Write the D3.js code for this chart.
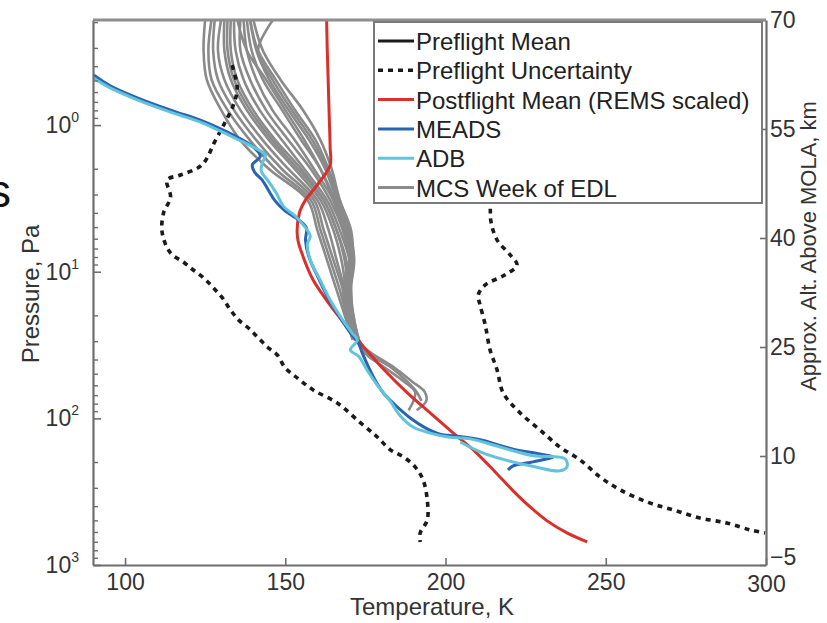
<!DOCTYPE html>
<html>
<head>
<meta charset="utf-8">
<script src="https://cdn.jsdelivr.net/npm/d3@7"></script>
<style>
  html, body { margin: 0; padding: 0; background: #fff; }
  svg { display: block; font-family: "Liberation Sans", Arial, sans-serif; }
</style>
</head>
<body>
<div id="chart"></div>
<script>
// axis ticks
const tempTicks = [100, 150, 200, 250, 300];
const presTicks = [1, 10, 100, 1000];
const presExp = ["0", "1", "2", "3"];
const altTicks = [-5, 10, 25, 40, 55, 70];

// [temperature K, pressure Pa]
const uncertCold = [[133.4,0.39],[135.0,0.56],[133.8,0.73],[131.3,0.95],[128.2,1.27],[124.0,1.87],[117.3,2.19],[113.1,2.37],[114.2,3.1],[112.0,3.98],[111.6,5.45],[114.2,7.46],[118.2,8.59],[121.3,9.73],[124.5,11.0],[127.6,12.9],[130.4,15.1],[132.9,18.2],[135.4,21.3],[138.5,24.2],[141.6,28.3],[144.4,32.6],[147.5,37.0],[150.0,45.3],[153.8,53.1],[158.7,64.0],[166.2,78.5],[173.4,107],[178.7,134],[182.8,164],[186.8,183],[190.5,214],[193.0,263],[194.3,360],[194.3,493],[192.1,604],[192.1,696]];

const uncertWarm = [[212.7,0.19],[210.8,0.68],[213.9,3.51],[214.2,4.58],[216.1,6.08],[220.2,7.69],[222.3,9.0],[218.6,10.5],[212.4,12.3],[210.2,14.4],[210.8,16.9],[212.4,23.1],[213.9,34.2],[216.1,46.8],[218.0,67.1],[223.3,91.9],[229.5,120],[235.7,157],[242.0,192],[248.2,251],[254.5,307],[262.9,372],[271.0,421],[279.4,478],[287.8,517],[295.0,576],[299.7,604]];

const postflight = [[162.9,0.192],[163.1,0.308],[163.4,0.509],[163.7,0.855],[164.0,1.43],[164.0,1.87],[160.0,2.56],[156.3,3.25],[154.4,3.98],[153.8,5.80],[155.6,7.94],[158.7,11.4],[164.0,16.9],[169.3,23.8],[175.3,34.2],[180.9,46.8],[188.1,67.1],[195.2,91.9],[202.4,126],[209.3,169],[215.5,232],[221.1,312],[226.4,402],[231.7,500],[237.9,604],[244.2,696]];

const meads = [[90.2,0.456],[95.5,0.542],[104.8,0.665],[115.1,0.803],[123.5,0.925],[129.8,1.06],[135.1,1.21],[140.0,1.41],[142.2,1.63],[139.7,1.87],[140.4,2.09],[142.8,2.37],[144.7,2.77],[146.9,3.30],[150.0,3.86],[153.8,4.37],[156.6,5.04],[156.3,6.08],[157.5,8.07],[160.3,11.0],[163.7,15.6],[167.2,20.7],[170.6,26.6],[172.8,30.6],[174.0,35.8],[177.5,52.2],[180.6,67.1],[184.3,81.1],[189.0,99.4],[193.7,116],[198.3,128],[203.0,132],[210.8,140],[221.1,162],[229.5,175],[233.6,183],[227.3,198],[221.1,211],[219.5,225]];

const adb = [[90.2,0.478],[95.5,0.56],[104.8,0.686],[115.1,0.828],[123.5,0.954],[129.8,1.10],[135.1,1.25],[140.7,1.44],[143.8,1.60],[142.8,1.82],[142.5,2.06],[144.7,2.41],[147.2,2.91],[149.4,3.57],[153.1,4.17],[155.9,4.88],[157.8,5.71],[156.9,6.48],[157.8,8.32],[160.9,11.4],[164.0,15.6],[167.5,20.7],[170.9,26.2],[172.5,29.2],[170.3,34.2],[172.8,37.6],[175.9,48.3],[178.7,59.2],[182.7,76.1],[185.9,96.3],[190.0,115],[195.2,126],[200.8,134],[207.7,138],[217.1,157],[227.3,180],[237.3,189],[237.9,214],[235.7,228],[227.9,214],[218.6,192],[210.8,169],[204.6,145]];

// MCS profiles: temperature at each pressure level (longer rows continue deeper)
const mcsLevels = [0.19, 0.31, 0.49, 0.79, 1.27, 2.0, 3.25, 5.2, 8.3, 13.3, 21.3, 29.2, 36, 45, 56, 66, 76, 88];
const mcsTemps = [
  [125, 124.5, 125.5, 130, 136, 145, 157, 160, 163, 166, 169, 171],
  [127, 126, 127, 132, 139, 147, 158, 161, 164, 167, 169.5, 171.5],
  [128, 127.5, 129, 134, 141, 149, 159, 162, 165, 168, 170, 172],
  [130, 129, 131, 136, 143, 151, 160, 163.5, 166, 168.5, 170, 172],
  [131, 131, 133, 138, 145, 153, 161, 165, 167.5, 169, 170.5, 172, 177, 184, 189.5, 193.5, 194, 191],
  [133, 133, 135, 140, 147, 155, 162, 166, 169, 170, 171, 172.5],
  [134, 134.5, 137, 142, 149, 156, 163, 167, 170, 170.5, 171, 172.5],
  [136, 136, 139, 144, 151, 158, 164, 168, 170.5, 170, 170.5, 172],
  [137, 138, 141, 146, 153, 159, 165, 168.5, 171, 170, 171, 173, 175, 181, 187, 190.5, 190, 188.5],
  [138, 139.5, 143, 149, 155, 161, 165.5, 169, 170.5, 169.5, 171, 172.5],
  [139, 141, 145, 151, 157.5, 162.5, 166, 169.5, 171, 170, 171.5, 173, 176, 183, 188, 191, 192.5],
  [139, 141.5, 147, 153, 159.5, 163.5, 167, 170, 171, 169, 170.5, 172],
  [135, 138, 144, 150, 156, 161, 165, 168, 170, 168, 170, 172],
  [146.3, 141.5, 146, 152, 158.5, 163, 166.5, 170, 171.5, 170.5, 171.5, 173],
  [140, 143, 148.5, 155.5, 161, 164.5, 167, 170.5, 171, 169.5, 170.5, 172],
  [132, 132, 134, 139, 146, 154, 162, 166, 168.5, 169.5, 170, 172]
];

const legendLabels = ["Preflight Mean", "Preflight Uncertainty", "Postflight Mean (REMS scaled)", "MEADS", "ADB", "MCS Week of EDL"];
const legendColors = ["#1a1a1a", "#1a1a1a", "#d8302a", "#2a63b0", "#62c4dc", "#8a8a8a"];

const width = 827, height = 623;
const L = 93, R = 766, T = 20, B = 565;

const svg = d3.select("#chart").append("svg")
  .attr("width", width)
  .attr("height", height);

const x = d3.scaleLinear().domain([90, 300]).range([L, R]);
const y = d3.scaleLog().domain([1000, 0.192]).range([B, T]);
const yAlt = d3.scaleLinear().domain([-5, 70]).range([B, T]);

svg.append("defs").append("clipPath").attr("id", "plot")
  .append("rect").attr("x", L).attr("y", T).attr("width", R - L).attr("height", B - T);

const line = d3.line()
  .x(d => x(d[0]))
  .y(d => y(d[1]))
  .curve(d3.curveCatmullRom.alpha(0.5));

const plot = svg.append("g").attr("clip-path", "url(#plot)");

// MCS profiles
mcsTemps.forEach(row => {
  const pts = row.map((t, i) => [t, mcsLevels[i]]);
  plot.append("path")
    .attr("d", line(pts))
    .attr("fill", "none")
    .attr("stroke", "#8a8a8a")
    .attr("stroke-width", 2.6);
});

// preflight uncertainty
[uncertCold, uncertWarm].forEach(data => {
  plot.append("path")
    .attr("d", line(data))
    .attr("fill", "none")
    .attr("stroke", "#1a1a1a")
    .attr("stroke-width", 3.6)
    .attr("stroke-dasharray", "5,5");
});

plot.append("path")
  .attr("d", line(postflight))
  .attr("fill", "none")
  .attr("stroke", "#d8302a")
  .attr("stroke-width", 3);

plot.append("path")
  .attr("d", line(meads))
  .attr("fill", "none")
  .attr("stroke", "#2a63b0")
  .attr("stroke-width", 3);

plot.append("path")
  .attr("d", line(adb))
  .attr("fill", "none")
  .attr("stroke", "#62c4dc")
  .attr("stroke-width", 3);

// axes
const axisColor = "#6e6e6e";
const labelColor = "#333";

const xAxis = svg.append("g")
  .attr("transform", `translate(0,${B})`)
  .call(d3.axisBottom(x).tickValues(tempTicks).tickSizeInner(-7).tickSizeOuter(0).tickPadding(9));

const minor = [];
[0.1, 1, 10, 100].forEach(dec => {
  for (let k = 2; k <= 9; k++) {
    const v = dec * k;
    if (v >= 0.192 && v < 1000) minor.push(v);
  }
});

const yAxis = svg.append("g")
  .attr("transform", `translate(${L},0)`)
  .call(d3.axisLeft(y).tickValues(presTicks).tickSizeInner(-8).tickSizeOuter(0).tickFormat(""));

svg.append("g")
  .selectAll("line")
  .data(minor)
  .join("line")
  .attr("x1", L).attr("x2", L + 5)
  .attr("y1", d => y(d)).attr("y2", d => y(d))
  .attr("stroke", axisColor)
  .attr("stroke-width", 1.4);

const yLabels = svg.append("g");
presTicks.forEach((v, i) => {
  const t = yLabels.append("text")
    .attr("x", L - 14)
    .attr("y", y(v) + 8)
    .attr("text-anchor", "end")
    .attr("fill", labelColor)
    .style("font-size", "23px");
  t.append("tspan").text("10");
  t.append("tspan").attr("dy", -11).style("font-size", "14px").text(presExp[i]);
});

const altAxis = svg.append("g")
  .attr("transform", `translate(${R},0)`)
  .call(d3.axisRight(yAlt).tickValues(altTicks).tickSizeInner(-6).tickSizeOuter(0).tickPadding(5));

[xAxis, yAxis, altAxis].forEach(g => {
  g.select(".domain").attr("stroke", axisColor).attr("stroke-width", 2.2);
  g.selectAll(".tick line").attr("stroke", axisColor).attr("stroke-width", 1.6);
  g.selectAll(".tick text")
    .attr("fill", labelColor)
    .style("font-size", "23px")
    .style("font-family", "'Liberation Sans', Arial, sans-serif");
});
altAxis.selectAll(".tick text").attr("dx", -1);
// the lowest altitude label sits a little above its tick, clear of "300"
altAxis.selectAll(".tick text").filter(d => d === -5).attr("y", -8);
xAxis.selectAll(".tick text").filter(d => d === 300).attr("y", 11);

// top border
svg.append("line")
  .attr("x1", L).attr("x2", R)
  .attr("y1", T).attr("y2", T)
  .attr("stroke", "#8e8e8e")
  .attr("stroke-width", 3);

// axis titles
svg.append("text")
  .attr("x", 432).attr("y", 615)
  .attr("text-anchor", "middle")
  .attr("fill", labelColor)
  .style("font-size", "24px")
  .text("Temperature, K");

svg.append("text")
  .attr("transform", "translate(39,294) rotate(-90)")
  .attr("text-anchor", "middle")
  .attr("fill", labelColor)
  .style("font-size", "24px")
  .text("Pressure, Pa");

svg.append("text")
  .attr("transform", "translate(816,246) rotate(-90)")
  .attr("text-anchor", "middle")
  .attr("fill", labelColor)
  .style("font-size", "22px")
  .text("Approx. Alt. Above MOLA, km");

// legend
const lg = svg.append("g");
lg.append("rect")
  .attr("x", 374).attr("y", 22)
  .attr("width", 388).attr("height", 181)
  .attr("fill", "#fff")
  .attr("stroke", "#7a7a7a")
  .attr("stroke-width", 2);

legendLabels.forEach((name, i) => {
  const ly = 41 + i * 29.3;
  lg.append("line")
    .attr("x1", 378).attr("x2", 414)
    .attr("y1", ly).attr("y2", ly)
    .attr("stroke", legendColors[i])
    .attr("stroke-width", i === 1 ? 3.6 : 3)
    .attr("stroke-dasharray", i === 1 ? "5,5" : null);
  lg.append("text")
    .attr("x", 416).attr("y", ly + 9)
    .attr("fill", "#222")
    .style("font-size", "24px")
    .text(name);
});

// stray glyph at left edge of the crop
svg.append("text")
  .attr("x", -12).attr("y", 207)
  .attr("fill", "#111")
  .style("font-size", "46px")
  .text("s");
</script>
</body>
</html>
